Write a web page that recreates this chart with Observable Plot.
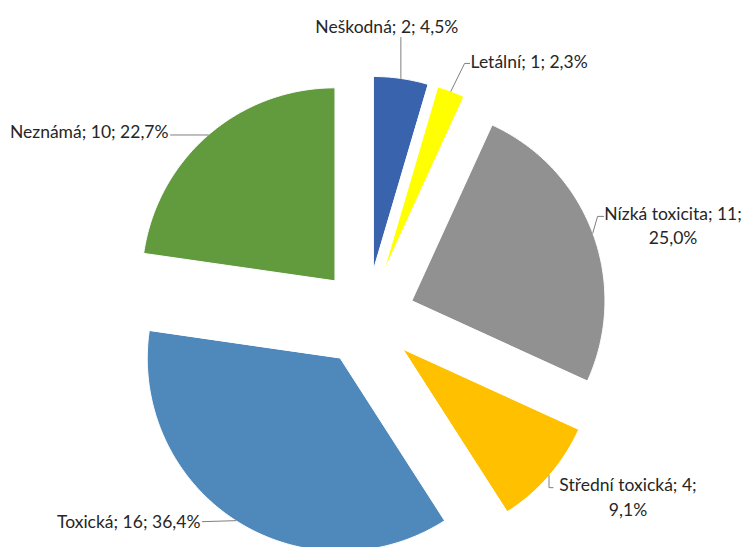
<!DOCTYPE html>
<html><head><meta charset="utf-8">
<script src="https://cdn.jsdelivr.net/npm/d3@7"></script>
<script src="https://cdn.jsdelivr.net/npm/@observablehq/plot@0.6"></script>
<style>body{margin:0;background:#fff}#chart{width:742px;height:547px}</style>
</head><body><div id="chart"></div>
<script>
// ---- data ----
const categories = ["Neškodná", "Letální", "Nízká toxicita", "Střední toxická", "Toxická", "Neznámá"];
const values = [2, 1, 11, 4, 16, 10];
const colors = ["#3A63AE", "#FFFF00", "#919191", "#FFC000", "#4F89BC", "#629A3E"];
const labelBreaks = [false, false, true, true, false, false];

// ---- layout ----
const W = 742, H = 547, CX = 366, CY = 317, R = 193, EXPLODE = 48.5;
const labelLayout = [
  {dx: -14, dy: -53, anchor: "middle", leader: [[0, -41]]},
  {dx: 19.7, dy: -30.8, anchor: "start", leader: [[13.7, -27.8], [18.7, -27.8]]},
  {dx: 80.3, dy: -9, anchor: "middle", leader: [[4.8, -16.7], [10.8, -16.7]]},
  {dx: 79, dy: 20, anchor: "middle", leader: [[0, 12], [4, 12]]},
  {dx: -35.5, dy: -1, anchor: "end", leader: [[-33.5, 1]]},
  {dx: -39.8, dy: -4.4, anchor: "end", leader: [[-37.8, 0]]}
];

const total = d3.sum(values);
const arcs = d3.pie().sort(null).value(d => d)(values);
const fmtPct = v => (v / total * 100).toFixed(1).replace(".", ",") + "%";

const marks = [];
const labels = [];
arcs.forEach((a, i) => {
  const mid = (a.startAngle + a.endAngle) / 2;
  const ox = EXPLODE * Math.sin(mid), oy = -EXPLODE * Math.cos(mid);
  const pts = [{x: ox, y: oy}];
  const n = Math.max(2, Math.ceil((a.endAngle - a.startAngle) / 0.01));
  for (let k = 0; k <= n; k++) {
    const t = a.startAngle + (a.endAngle - a.startAngle) * k / n;
    pts.push({x: ox + R * Math.sin(t), y: oy - R * Math.cos(t)});
  }
  marks.push(Plot.line(pts, {x: "x", y: "y", fill: colors[i], stroke: "#ffffff", strokeWidth: 1, curve: "linear-closed"}));
  const mx = ox + R * Math.sin(mid), my = oy - R * Math.cos(mid);
  const L = labelLayout[i];
  const leader = [{x: mx, y: my}, ...L.leader.map(([lx, ly]) => ({x: mx + lx, y: my + ly}))];
  marks.push(Plot.line(leader, {x: "x", y: "y", stroke: "#7f7f7f", strokeWidth: 1}));
  const name = categories[i];
  const txt = `${name}; ${values[i]};` + (labelBreaks[i] ? "\n" : " ") + fmtPct(values[i]);
  labels.push(Plot.text([{x: mx + L.dx, y: my + L.dy, t: txt}], {
    x: "x", y: "y", text: "t", textAnchor: L.anchor, lineHeight: 1.4,
    fill: "#262626", fontSize: 17.5, fontFamily: "Lato"
  }));
});

const chart = Plot.plot({
  width: W, height: H,
  margin: 0,
  x: {domain: [-CX, W - CX], range: [0, W], axis: null},
  y: {domain: [-CY, H - CY], range: [0, H], axis: null},
  style: {background: "#ffffff", fontFamily: "Lato"},
  marks: [...marks, ...labels]
});
document.getElementById("chart").appendChild(chart);
</script>
</body></html>
